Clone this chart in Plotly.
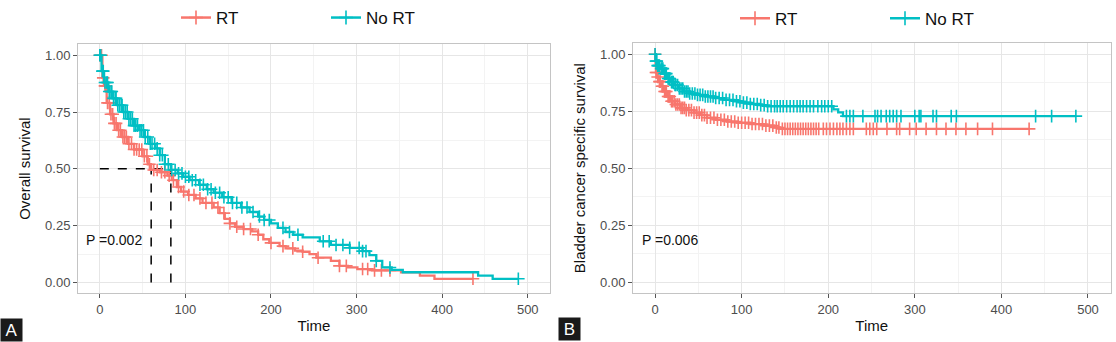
import numpy as np
import plotly.graph_objects as go

W, H = 1116, 342
RED = "#F8766D"
TEAL = "#00BFC4"

# ---------------- Panel A: overall survival ----------------
a_rt_time = [0, 3, 5, 8, 12, 16, 20, 26, 33, 40, 50, 56, 60, 70, 79, 84, 90, 95, 103, 112, 120, 133,
             140, 146, 152, 158, 168, 178, 185, 191, 198, 210, 217, 228, 237, 245, 253, 270, 280, 290,
             301, 318, 352, 374, 391, 436]
a_rt_surv = [1.0, 0.90, 0.865, 0.79, 0.74, 0.70, 0.67, 0.64, 0.61, 0.585, 0.555, 0.52, 0.495, 0.485,
             0.47, 0.45, 0.42, 0.40, 0.385, 0.37, 0.35, 0.33, 0.305, 0.28, 0.26, 0.245, 0.235, 0.225,
             0.21, 0.19, 0.174, 0.16, 0.15, 0.14, 0.135, 0.125, 0.109, 0.095, 0.073, 0.066, 0.059,
             0.053, 0.045, 0.030, 0.016, 0.016]
a_nort_time = [0, 2, 5, 10, 15, 20, 27, 33, 40, 46, 52, 58, 65, 70, 76, 83, 91, 97, 105, 116, 125, 133,
               143, 154, 165, 175, 185, 192, 200, 208, 217, 226, 237, 257, 270, 292, 307, 315, 323, 330,
               341, 354, 442, 459, 489]
a_nort_surv = [1.0, 0.93, 0.88, 0.84, 0.81, 0.78, 0.75, 0.72, 0.69, 0.67, 0.64, 0.61, 0.59, 0.56, 0.52,
               0.495, 0.48, 0.465, 0.45, 0.43, 0.41, 0.395, 0.375, 0.35, 0.33, 0.31, 0.29, 0.275, 0.26,
               0.24, 0.222, 0.21, 0.198, 0.181, 0.165, 0.152, 0.138, 0.12, 0.095, 0.066, 0.055, 0.045,
               0.030, 0.016, 0.016]
a_rt_cens = [0, 2, 4, 6, 7, 9, 11, 13, 15, 17, 19, 22, 24, 27, 29, 31, 34, 37, 40, 43, 46, 49, 52, 55,
             58, 63, 67, 72, 76, 81, 86, 92, 98, 104, 110, 117, 124, 131, 138, 145, 152, 160, 168, 176,
             185, 200, 214, 225.5, 237, 255, 280, 288, 307, 313, 321, 329, 339, 436]
a_nort_cens = [0, 1, 3, 4, 6, 8, 9, 11, 13, 14, 16, 18, 19, 21, 23, 25, 26, 28, 30, 32, 34, 36, 38, 40,
               42, 44, 47, 49, 51, 53, 56, 59, 61, 64, 67, 70, 73, 76, 80, 84, 88, 92, 96, 100, 104,
               108, 112, 117, 121, 126, 130, 135, 140, 145, 150, 155, 160, 166, 172, 179, 186.5, 192,
               198, 214, 221.6, 231.5, 261, 268, 276, 284, 292, 303, 307, 311, 323, 339, 489]
a_median_rt = 60
a_median_nort = 83
a_pval = "P =0.002"

# ---------------- Panel B: bladder cancer specific survival ----------------
b_rt_time = [0, 0.5, 1, 3, 4.6, 7, 10, 14, 18, 23, 29.5, 36, 45, 52, 60, 70, 83, 95, 110, 125, 137,
             144.5, 432]
b_rt_surv = [1.0, 0.96, 0.92, 0.90, 0.88, 0.86, 0.837, 0.815, 0.794, 0.78, 0.765, 0.755, 0.744, 0.733,
             0.722, 0.713, 0.705, 0.70, 0.694, 0.687, 0.679, 0.673, 0.673]
b_nort_time = [0, 1, 3, 6.5, 10, 14, 18, 22, 27, 33, 40, 49, 58, 68, 80, 91, 100, 110, 120, 129, 206,
               211.5, 217, 486]
b_nort_surv = [1.0, 0.97, 0.95, 0.937, 0.915, 0.894, 0.878, 0.865, 0.85, 0.837, 0.828, 0.822, 0.815,
               0.808, 0.80, 0.794, 0.788, 0.782, 0.777, 0.772, 0.758, 0.745, 0.729, 0.729]
b_rt_cens = [0, 1, 2, 3, 5, 6, 8, 9, 11, 12, 13, 15, 16, 17, 19, 20, 22, 24, 26, 28, 30, 32, 34, 36,
             39, 42, 45, 48, 51, 54, 57, 60, 64, 68, 72, 76, 80, 84, 88, 92, 96, 100, 104, 108, 112,
             116, 120, 124, 128, 132, 136, 140, 143, 147, 150, 153, 156, 159, 162, 165, 168, 171, 174,
             177, 180, 183, 186, 189, 194.3, 198, 202, 206, 210, 213.5, 217, 221, 225, 229, 244, 248,
             252, 256, 267.8, 279, 282.5, 294, 301.6, 313, 325, 336, 347.5, 359, 372.5, 389.7, 432]
b_nort_cens = [0, 1, 2, 3, 4, 5, 7, 8, 9, 11, 12, 13, 15, 16, 17, 19, 20, 21, 23, 24, 26, 28, 30, 32,
               34, 36, 38, 40, 43, 46, 49, 52, 55, 58, 61, 64, 67, 70, 74, 78, 82, 86, 90, 94, 98, 102,
               106, 110, 114, 118, 122, 126, 130, 134, 138, 141, 144.5, 148, 152, 156, 160, 164, 167.5,
               171, 175, 179, 183, 188, 192.4, 196, 200, 204, 221, 225, 229, 240, 254, 257, 261, 267,
               271, 275, 279, 284, 300, 305, 307, 321, 325, 342, 348, 439.5, 458, 486]
b_pval = "P =0.006"

groups = ["RT", "No RT"]
x_ticks = [0, 100, 200, 300, 400, 500]
y_ticks = [0.0, 0.25, 0.5, 0.75, 1.0]


def surv_at(times, surv, t):
    times = np.asarray(times, float)
    surv = np.asarray(surv, float)
    idx = np.searchsorted(times, np.asarray(t, float), side="right") - 1
    return surv[np.clip(idx, 0, len(surv) - 1)]


fig = go.Figure()

panels = [
    ("x", "y", "legend", [(a_rt_time, a_rt_surv, a_rt_cens, RED), (a_nort_time, a_nort_surv, a_nort_cens, TEAL)]),
    ("x2", "y2", "legend2", [(b_rt_time, b_rt_surv, b_rt_cens, RED), (b_nort_time, b_nort_surv, b_nort_cens, TEAL)]),
]

# median dashed lines on panel A
fig.add_trace(go.Scatter(x=[0, a_median_nort], y=[0.5, 0.5], mode="lines", xaxis="x", yaxis="y",
                         line=dict(color="black", width=1.5, dash="dash"), showlegend=False, hoverinfo="skip"))
for m in (a_median_rt, a_median_nort):
    fig.add_trace(go.Scatter(x=[m, m], y=[0, 0.5], mode="lines", xaxis="x", yaxis="y",
                             line=dict(color="black", width=1.5, dash="dash"), showlegend=False, hoverinfo="skip"))

for xa, ya, leg, curves in panels:
    for name, (tt, ss, cc, col) in zip(groups, curves):
        fig.add_trace(go.Scatter(x=tt, y=ss, mode="lines", line=dict(color=col, width=2.3, shape="hv"),
                                 xaxis=xa, yaxis=ya, showlegend=False))
        fig.add_trace(go.Scatter(x=cc, y=surv_at(tt, ss, cc), mode="markers", xaxis=xa, yaxis=ya,
                                 marker=dict(symbol="cross-thin", size=9, line=dict(color=col, width=1.6)),
                                 showlegend=False))
        fig.add_trace(go.Scatter(x=[None], y=[None], mode="lines+markers", name=name, legend=leg,
                                 xaxis=xa, yaxis=ya,
                                 line=dict(color=col, width=2.5),
                                 marker=dict(symbol="cross-thin", size=10, line=dict(color=col, width=1.6))))

grid_major = "#e6e6e6"
grid_minor = "#f3f3f3"
border = "#c4c4c4"
tickfont = dict(family="Arial, Liberation Sans, sans-serif", size=13, color="#4d4d4d")
titlefont = dict(family="Arial, Liberation Sans, sans-serif", size=15, color="#111111")


def xaxis(domain, anchor):
    return dict(domain=domain, anchor=anchor, range=[-25.5, 526], tickvals=x_ticks,
                showgrid=True, gridcolor=grid_major, gridwidth=1,
                minor=dict(dtick=50, tick0=0, showgrid=True, gridcolor=grid_minor, ticks=""),
                zeroline=False, showline=True, mirror=True, linecolor=border, linewidth=1,
                ticks="outside", ticklen=4, tickcolor="#555555", tickfont=tickfont,
                title=dict(text="Time", font=titlefont, standoff=4))


def yaxis(domain, anchor, title):
    return dict(domain=domain, anchor=anchor, range=[-0.048, 1.05], tickvals=y_ticks, tickformat=".2f",
                showgrid=True, gridcolor=grid_major, gridwidth=1,
                minor=dict(dtick=0.125, tick0=0, showgrid=True, gridcolor=grid_minor, ticks=""),
                zeroline=False, showline=True, mirror=True, linecolor=border, linewidth=1,
                ticks="outside", ticklen=4, tickcolor="#555555", tickfont=tickfont,
                title=dict(text=title, font=titlefont, standoff=10))


legfont = dict(family="Arial, Liberation Sans, sans-serif", size=17, color="#111111")
fig.update_layout(
    width=W, height=H, margin=dict(l=0, r=0, t=0, b=0),
    paper_bgcolor="white", plot_bgcolor="white",
    xaxis=xaxis([78 / W, 550 / W], "y"),
    yaxis=yaxis([(H - 292.5) / H, (H - 38.5) / H], "x", "Overall survival"),
    xaxis2=xaxis([633 / W, 1110.5 / W], "y2"),
    yaxis2=yaxis([(H - 292.5) / H, (H - 37.5) / H], "x2", "Bladder cancer specific survival"),
    legend=dict(orientation="h", x=176 / W, y=1 - 12 / H, xanchor="left", yanchor="middle",
                font=legfont, entrywidth=105, entrywidthmode="pixels", bgcolor="rgba(0,0,0,0)"),
    legend2=dict(orientation="h", x=735 / W, y=1 - 13 / H, xanchor="left", yanchor="middle",
                 font=legfont, entrywidth=105, entrywidthmode="pixels", bgcolor="rgba(0,0,0,0)"),
    annotations=[
        dict(text=a_pval, x=-18.5, y=0.185, xref="x", yref="y", xanchor="left", yanchor="middle",
             showarrow=False, font=dict(family="Arial, Liberation Sans, sans-serif", size=14, color="#111")),
        dict(text=b_pval, x=-17, y=0.185, xref="x2", yref="y2", xanchor="left", yanchor="middle",
             showarrow=False, font=dict(family="Arial, Liberation Sans, sans-serif", size=14, color="#111")),
        dict(text="A", x=0, y=0, xref="paper", yref="paper", xanchor="left", yanchor="bottom",
             showarrow=False, bgcolor="#1a1a1a", borderpad=1, width=19, height=20,
             font=dict(family="Arial, Liberation Sans, sans-serif", size=17, color="white")),
        dict(text="B", x=558 / W, y=1 / H, xref="paper", yref="paper", xanchor="left", yanchor="bottom",
             showarrow=False, bgcolor="#1a1a1a", borderpad=1, width=19, height=20,
             font=dict(family="Arial, Liberation Sans, sans-serif", size=17, color="white")),
    ],
)

fig.write_html("out.html")
